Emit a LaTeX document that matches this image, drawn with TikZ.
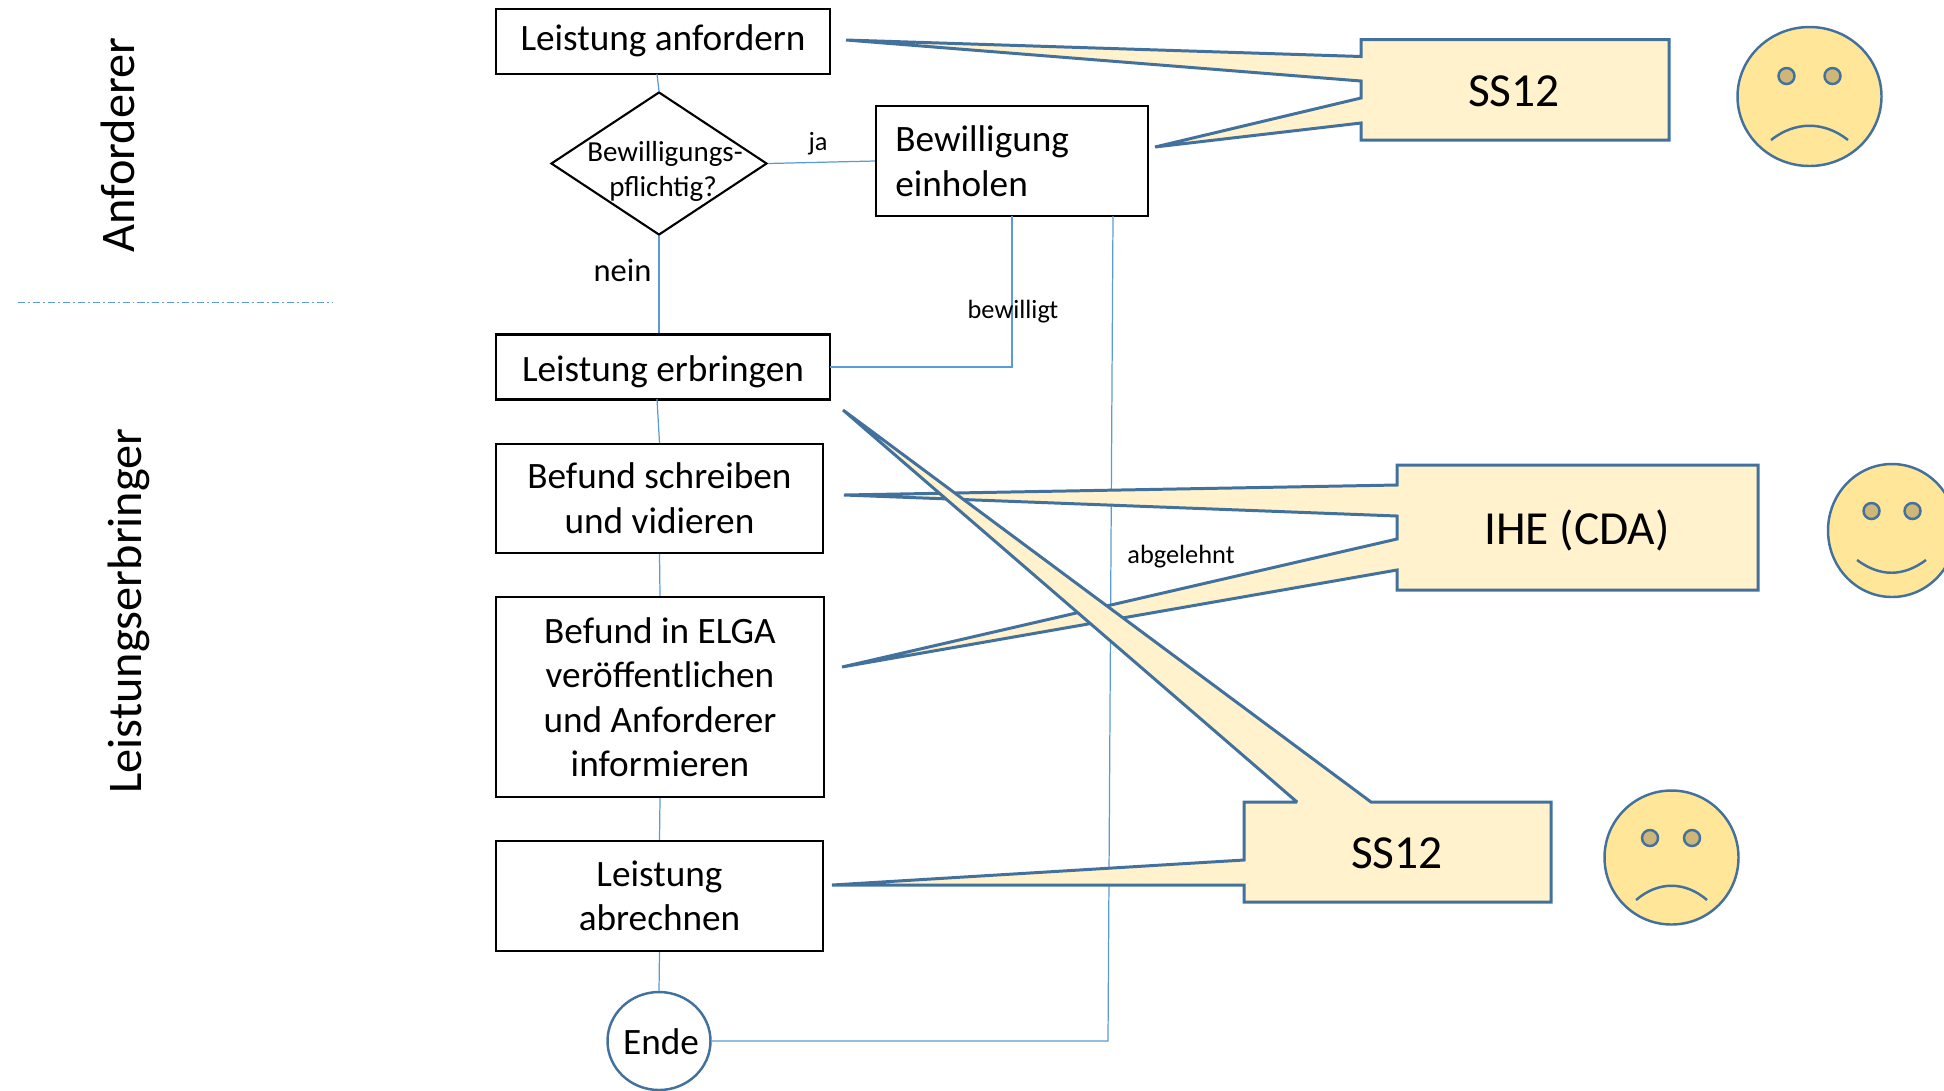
\documentclass[tikz,border=0pt]{standalone}
\usepackage{fontspec}
\setmainfont{Carlito}
\usetikzlibrary{shapes.geometric}
\definecolor{linkblue}{HTML}{5B9BD5}
\definecolor{edgeblue}{HTML}{41719C}
\definecolor{notefill}{HTML}{FFF2CC}
\definecolor{facefill}{HTML}{FFE699}
\definecolor{eyefill}{HTML}{CDB677}
\newcommand{\fs}[1]{\fontsize{#1}{#1}\selectfont}
\tikzset{
  px/.style={x=0.02cm,y=-0.02cm},
  stepbox/.style={draw=black,line width=1.2pt,fill=white,inner sep=0pt,align=center,font=\fs{21.2}},
  decide/.style={diamond,draw=black,line width=1.2pt,fill=white,inner sep=0pt,minimum width=216*0.02cm,minimum height=143*0.02cm,aspect=1.5},
  link/.style={draw=linkblue,line width=0.7pt},
  callout/.style={draw=edgeblue,fill=notefill,line width=1.7pt,line join=miter,miter limit=2},
  face/.style={draw=edgeblue,fill=facefill,line width=1.4pt},
  eye/.style={draw=edgeblue,fill=eyefill,line width=1.4pt},
  mouth/.style={draw=edgeblue,line width=1.4pt},
  big/.style={font=\fs{27}},
  mid/.style={font=\fs{21.2}},
  small/.style={font=\fs{15}},
}
\begin{document}
\begin{tikzpicture}[px]
\useasboundingbox (0,0) rectangle (1944,1090);
\clip (0,0) rectangle (1944,1090);

% process nodes
\node[stepbox,minimum width=334*0.02cm,minimum height=65*0.02cm] (anf) at (663,41.5) {};
\node[decide] (dia) at (659,163.5) {};
\node[stepbox,minimum width=272*0.02cm,minimum height=110*0.02cm] (bew) at (1012,161) {};
\node[stepbox,minimum width=334*0.02cm,minimum height=65*0.02cm] (erb) at (663,367) {};
\node[stepbox,minimum width=327*0.02cm,minimum height=109*0.02cm] (bef) at (659.5,498.5) {};
\node[stepbox,minimum width=328*0.02cm,minimum height=200*0.02cm] (elga) at (660,697) {};
\node[stepbox,minimum width=327*0.02cm,minimum height=110*0.02cm] (abr) at (659.5,896) {};
\node[ellipse,draw=edgeblue,fill=white,line width=1.4pt,minimum width=103*0.02cm,minimum height=98*0.02cm,inner sep=0pt] (ende) at (659,1041) {};

% connector helpers
\coordinate (anfS) at (657,74);
\coordinate (erbS) at (657,399);
\coordinate (bewS1) at (1012,216);
\coordinate (bewS2) at (1113,216);
\coordinate (erbE) at (830,367);
\coordinate (kneeB) at (1012,367);
\coordinate (kneeA) at (1108,1041);
\coordinate (sepL) at (18,302.5);
\coordinate (sepR) at (333,302.5);

% connectors
\draw[link] (anfS) -- (dia.north);
\draw[link] (dia.east) -- (bew.west);
\draw[link] (dia.south) -- (dia.south |- erb.north);
\draw[link] (bewS1) -- (kneeB) -- (erbE);
\draw[link] (bewS2) -- (kneeA) -- (ende.east);
\draw[link] (erbS) -- (bef.north);
\draw[link] (bef.south) -- (elga.north);
\draw[link] (elga.south) -- (abr.north);
\draw[link] (abr.south) -- (ende.north);
\draw[link,dash pattern=on 4pt off 1.7pt on 1.1pt off 1.7pt] (sepL) -- (sepR);

% callouts
\draw[callout] (1361,39.5) -- (1669,39.5) -- (1669,140) -- (1361,140) -- (1361,123) -- (1155,147) -- (1361,98) -- (1361,81) -- (846,40) -- (1361,56.5) -- cycle;
\draw[callout] (1397,465) -- (1758,465) -- (1758,590) -- (1397,590) -- (1397,570) -- (842,667) -- (1397,539) -- (1397,516) -- (844,495) -- (1397,485) -- cycle;
\draw[callout] (1244,802) -- (1297,802) -- (843,410) -- (1371,802) -- (1551,802) -- (1551,902) -- (1244,902) -- (1244,885) -- (832,885) -- (1244,860) -- cycle;

% callout and step text
\node[big] (ss1) at (1514,91) {SS12};
\node[big] (ihe) at (1577,530) {IHE (CDA)};
\node[big] (ss2) at (1397,853) {SS12};

\node[mid] at (663,41) {Leistung anfordern};
\node[mid] at (663,371.5) {Leistung erbringen};
\node[mid,align=center] at (659.5,498) {Befund schreiben\\[4.1pt]und vidieren};
\node[mid,align=center] at (660,697) {Befund in ELGA\\[4.1pt]veröffentlichen\\[4.1pt]und Anforderer\\[4.1pt]informieren};
\node[mid,align=center] at (659.5,896) {Leistung\\[4.1pt]abrechnen};
\node[mid,align=left,anchor=west,inner xsep=0pt] at (895,161) {Bewilligung\\[4.1pt]einholen};
\node[mid] at (661,1042) {Ende};
\node[font=\fs{16.5}] at (665,153.5) {Bewilligungs-};
\node[font=\fs{16.5}] at (663,188.5) {pflichtig?};

% labels
\node[small] at (818,143.5) {ja};
\node[font=\fs{18.5}] at (622.5,270) {nein};
\node[small] at (1013,311.5) {bewilligt};
\node[small] at (1181,556.5) {abgelehnt};
\node[rotate=90,font=\fs{27.5}] at (117.5,145) {Anforderer};
\node[rotate=90,font=\fs{27.5}] at (129,611) {Leistungserbringer};

% faces
\draw[face] (1809.5,96.5) ellipse [x radius=72,y radius=69.5];
\draw[eye] (1786.5,76) circle [radius=8];
\draw[eye] (1832.5,76) circle [radius=8];
\draw[mouth] (1771,140) .. controls (1795,121) and (1824,121) .. (1848,140);

\draw[face] (1892,530.5) ellipse [x radius=64,y radius=66.5];
\draw[eye] (1871.5,511) circle [radius=8];
\draw[eye] (1912.5,511) circle [radius=8];
\draw[mouth] (1857,560) .. controls (1880,577) and (1903,577) .. (1926,560);

\draw[face] (1671.5,857.5) ellipse [x radius=67,y radius=67];
\draw[eye] (1650,838) circle [radius=8];
\draw[eye] (1692,838) circle [radius=8];
\draw[mouth] (1636,900) .. controls (1658,881) and (1685,881) .. (1707,900);
\end{tikzpicture}
\end{document}
